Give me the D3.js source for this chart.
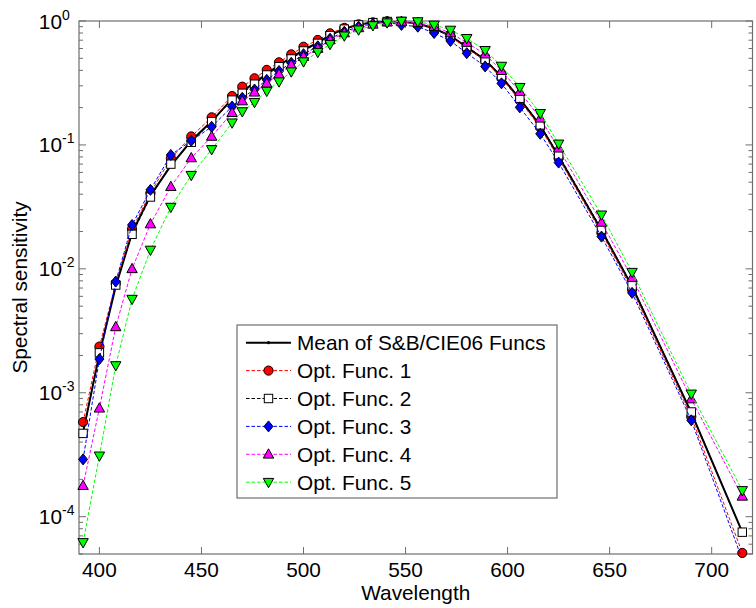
<!DOCTYPE html>
<html><head><meta charset="utf-8">
<script src="https://cdn.jsdelivr.net/npm/d3@7"></script>
<style>body{margin:0;background:#fff}svg{display:block;font-family:"Liberation Sans",Arial,sans-serif}</style>
</head><body>
<svg id="chart" width="756" height="608"></svg>
<script>
const wavelengths = [392,400,408,416,425,435,445,455,465,470,476,482,488,494,500,507,513,520,527,534,541,548,556,564,572,580,589,597,606,616,625,646,661,690,715];
const meanVals = [4.8e-4,2.05e-3,7.2e-3,0.0195,0.039,0.068,0.108,0.155,0.235,0.27,0.318,0.375,0.44,0.505,0.585,0.67,0.77,0.865,0.935,0.975,0.995,0.985,0.955,0.87,0.76,0.615,0.485,0.355,0.235,0.143,0.081,0.0205,0.0072,0.00069,7.5e-5];
const opt1 = [5.8e-4,2.36e-3,7.6e-3,0.021,0.041,0.078,0.117,0.167,0.248,0.295,0.345,0.403,0.464,0.538,0.62,0.703,0.795,0.88,0.94,0.975,0.995,0.985,0.95,0.87,0.75,0.6,0.48,0.345,0.228,0.138,0.078,0.0195,0.0068,0.00064,5.1e-5];
const opt2 = [4.7e-4,2.1e-3,7.4e-3,0.019,0.038,0.070,0.105,0.154,0.23,0.261,0.309,0.367,0.428,0.494,0.573,0.66,0.762,0.86,0.93,0.97,0.99,0.99,0.96,0.87,0.76,0.62,0.49,0.36,0.238,0.145,0.083,0.0209,0.0073,0.00070,7.5e-5];
const opt3 = [2.9e-4,1.87e-3,7.9e-3,0.0226,0.0434,0.083,0.108,0.14,0.204,0.24,0.28,0.335,0.395,0.46,0.54,0.625,0.72,0.82,0.9,0.95,0.975,0.93,0.9,0.8,0.69,0.55,0.43,0.314,0.201,0.123,0.072,0.0182,0.0064,0.00060,4.5e-5];
const opt4 = [1.78e-4,7.5e-4,3.4e-3,0.01,0.023,0.046,0.0785,0.117,0.182,0.226,0.266,0.314,0.372,0.442,0.515,0.6,0.703,0.8,0.88,0.94,0.98,0.99,0.97,0.9,0.8,0.67,0.54,0.397,0.269,0.164,0.094,0.0237,0.0085,0.00089,1.46e-4];
const opt5 = [6.2e-5,3.1e-4,1.66e-3,5.7e-3,0.0142,0.0315,0.057,0.092,0.151,0.186,0.221,0.272,0.324,0.39,0.47,0.56,0.649,0.76,0.85,0.92,0.97,1.0,0.99,0.93,0.846,0.725,0.58,0.433,0.292,0.18,0.102,0.0273,0.0094,0.00098,1.63e-4];
const seriesNames = ["Mean of S&B/CIE06 Funcs","Opt. Func. 1","Opt. Func. 2","Opt. Func. 3","Opt. Func. 4","Opt. Func. 5"];
const xTicks = [400,450,500,550,600,650,700];
const yTickExps = [-4,-3,-2,-1,0];

const series = [
  {name:seriesNames[0], vals:meanVals, color:"#000000", fill:"#000000", marker:"dot", dash:null, width:2},
  {name:seriesNames[1], vals:opt1, color:"#ff0000", fill:"#ff0000", marker:"circle", dash:"3.5,2", width:1},
  {name:seriesNames[2], vals:opt2, color:"#000000", fill:"#ffffff", marker:"square", dash:"3.5,2", width:1},
  {name:seriesNames[3], vals:opt3, color:"#0000ff", fill:"#0000ff", marker:"diamond", dash:"3.5,2", width:1},
  {name:seriesNames[4], vals:opt4, color:"#ff00ff", fill:"#ff00ff", marker:"tri-up", dash:"3.5,2", width:1},
  {name:seriesNames[5], vals:opt5, color:"#00ff00", fill:"#00ff00", marker:"tri-down", dash:"3.5,2", width:1}
];

const FS = 20.8;
const L=79, R=752.5, T=21, B=554;
const svg = d3.select("#chart");
const x = d3.scaleLinear().domain([390,720]).range([L,R]);
const y = d3.scaleLog().domain([5e-5,1]).range([B,T]);

const axisColor = "#6e6e6e";
svg.append("defs").append("clipPath").attr("id","clip")
  .append("rect").attr("x",L).attr("y",T).attr("width",R-L).attr("height",B-T);

const g = svg.append("g");
const minorY = [];
for (let e=-5;e<=-1;e++){ for(let k=2;k<=9;k++){ const v=k*Math.pow(10,e); if(v>=5e-5 && v<1) minorY.push(v);} }
minorY.forEach(v=>{
  g.append("line").attr("x1",L).attr("x2",L+4).attr("y1",y(v)).attr("y2",y(v)).attr("stroke",axisColor);
  g.append("line").attr("x1",R).attr("x2",R-4).attr("y1",y(v)).attr("y2",y(v)).attr("stroke",axisColor);
});
yTickExps.forEach(e=>{
  const v=Math.pow(10,e);
  g.append("line").attr("x1",L).attr("x2",L+7).attr("y1",y(v)).attr("y2",y(v)).attr("stroke",axisColor);
  g.append("line").attr("x1",R).attr("x2",R-7).attr("y1",y(v)).attr("y2",y(v)).attr("stroke",axisColor);
  g.append("text").attr("x",62).attr("y",y(v)+7.5).attr("text-anchor","end").attr("font-size",FS).text("10");
  g.append("text").attr("x",62).attr("y",y(v)-1.5).attr("font-size",14).text(e===0?"0":"-"+Math.abs(e));
});
xTicks.forEach(t=>{
  g.append("line").attr("x1",x(t)).attr("x2",x(t)).attr("y1",B).attr("y2",B-7).attr("stroke",axisColor);
  g.append("line").attr("x1",x(t)).attr("x2",x(t)).attr("y1",T).attr("y2",T+7).attr("stroke",axisColor);
  g.append("text").attr("x",x(t)).attr("y",577).attr("text-anchor","middle").attr("font-size",FS).text(t);
});
g.append("rect").attr("x",L).attr("y",T).attr("width",R-L).attr("height",B-T)
  .attr("fill","none").attr("stroke",axisColor).attr("stroke-width",1.2);

svg.append("text").attr("x",(L+R)/2).attr("y",600).attr("text-anchor","middle").attr("font-size",FS).text("Wavelength");
svg.append("text").attr("transform",`translate(27,${(T+B)/2}) rotate(-90)`).attr("text-anchor","middle").attr("font-size",FS).text("Spectral sensitivity");

function drawMarker(sel, type, cx, cy, fill){
  if(type==="dot"){ sel.append("circle").attr("cx",cx).attr("cy",cy).attr("r",1.6).attr("fill","#000"); return; }
  let p;
  if(type==="circle") p = sel.append("circle").attr("cx",cx).attr("cy",cy).attr("r",4.6);
  else if(type==="square") p = sel.append("rect").attr("x",cx-4.2).attr("y",cy-4.2).attr("width",8.4).attr("height",8.4);
  else if(type==="diamond") p = sel.append("path").attr("d",`M${cx},${cy-5.5}L${cx+4.5},${cy}L${cx},${cy+5.5}L${cx-4.5},${cy}Z`);
  else if(type==="tri-up") p = sel.append("path").attr("d",`M${cx},${cy-5.5}L${cx+5.2},${cy+3.8}L${cx-5.2},${cy+3.8}Z`);
  else if(type==="tri-down") p = sel.append("path").attr("d",`M${cx},${cy+5.5}L${cx+5.2},${cy-3.8}L${cx-5.2},${cy-3.8}Z`);
  p.attr("fill",fill).attr("stroke","#000").attr("stroke-width",1);
}

const line = d3.line().x((d,i)=>x(wavelengths[i])).y(d=>y(d));
series.forEach(s=>{
  const sg = svg.append("g");
  sg.append("path").datum(s.vals).attr("d",line).attr("clip-path","url(#clip)")
    .attr("fill","none").attr("stroke",s.color).attr("stroke-width",s.width)
    .attr("stroke-dasharray",s.dash);
  s.vals.forEach((v,i)=>{ if(v>=5e-5 && v<=1.001) drawMarker(sg, s.marker, x(wavelengths[i]), y(v), s.fill); });
});

const lg = svg.append("g");
lg.append("rect").attr("x",237).attr("y",325).attr("width",320).attr("height",173)
  .attr("fill","#fff").attr("stroke",axisColor).attr("stroke-width",1.2);
series.forEach((s,i)=>{
  const ly = 342.7 + i*27.9;
  lg.append("line").attr("x1",246).attr("x2",291).attr("y1",ly).attr("y2",ly)
    .attr("stroke",s.color).attr("stroke-width",s.width).attr("stroke-dasharray",s.dash);
  drawMarker(lg, s.marker, 268.5, ly, s.fill);
  lg.append("text").attr("x",297).attr("y",ly+7.5).attr("font-size",FS).text(s.name);
});
</script>
</body></html>
